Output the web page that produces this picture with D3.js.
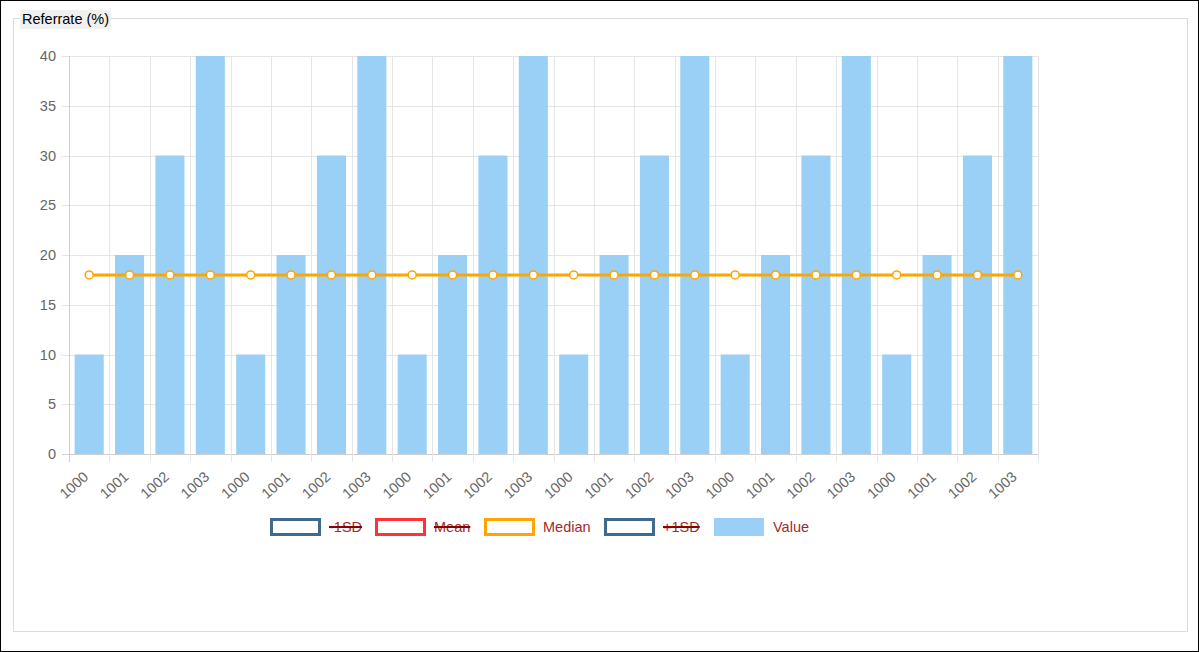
<!DOCTYPE html>
<html><head><meta charset="utf-8">
<script src="https://cdn.jsdelivr.net/npm/d3@7/dist/d3.min.js"></script>
<style>
html,body{margin:0;padding:0;background:#fff;}
body{width:1199px;height:652px;overflow:hidden;font-family:"Liberation Sans",Arial,sans-serif;}
</style></head>
<body>
<svg id="chart" width="1199" height="652"></svg>
<script>
const categories = ["1000","1001","1002","1003","1000","1001","1002","1003","1000","1001","1002","1003","1000","1001","1002","1003","1000","1001","1002","1003","1000","1001","1002","1003"];
const values = [10,20,30,40,10,20,30,40,10,20,30,40,10,20,30,40,10,20,30,40,10,20,30,40];
const median = [18,18,18,18,18,18,18,18,18,18,18,18,18,18,18,18,18,18,18,18,18,18,18,18];
const yTicks = [0,5,10,15,20,25,30,35,40];
const legendItems = [
  {label:"-1SD", type:"line", color:"#3e6a8e", hidden:true},
  {label:"Mean", type:"line", color:"#ff3333", hidden:true},
  {label:"Median", type:"line", color:"#ffa500", hidden:false},
  {label:"+1SD", type:"line", color:"#3e6a8e", hidden:true},
  {label:"Value", type:"bar", color:"#9ad0f5", hidden:false}
];
const titleText = "Referrate (%)";

const svg = d3.select("#chart");
svg.append("rect").attr("x",0.5).attr("y",0.5).attr("width",1198).attr("height",651)
  .attr("fill","none").attr("stroke","#000").attr("stroke-width",1);
svg.append("rect").attr("x",13.5).attr("y",18.5).attr("width",1174).attr("height",613)
  .attr("fill","none").attr("stroke","#dcdcdc").attr("stroke-width",1);
const tg = svg.append("g");
tg.append("rect").attr("x",20).attr("y",10).attr("width",91).attr("height",19).attr("fill","#f0f0f0");
tg.append("text").attr("x",22).attr("y",24).attr("font-size",14.5).attr("fill","#000").text(titleText);

const pLeft=69, pRight=1038, pTop=56, pBottom=454;
const x = d3.scaleBand().domain(d3.range(categories.length)).range([pLeft,pRight]).paddingInner(0).paddingOuter(0);
const y = d3.scaleLinear().domain([0,40]).range([pBottom,pTop]);

const g = svg.append("g");
g.selectAll(".hg").data(yTicks).enter().append("line")
  .attr("x1",pLeft-7).attr("x2",pRight).attr("y1",d=>Math.round(y(d))+0.5).attr("y2",d=>Math.round(y(d))+0.5)
  .attr("stroke",d=>d===0?"#cfcfcf":"#e5e5e5").attr("stroke-width",1);
const vlines = d3.range(categories.length+1).map(i=> i<categories.length ? x(i) : pRight);
g.selectAll(".vg").data(vlines).enter().append("line")
  .attr("x1",d=>Math.round(d)+0.5).attr("x2",d=>Math.round(d)+0.5).attr("y1",pTop).attr("y2",pBottom+8)
  .attr("stroke",(d,i)=>i===0?"#cfcfcf":"#e5e5e5").attr("stroke-width",1);

const bw = x.bandwidth()*0.72;
g.selectAll(".bar").data(values).enter().append("rect")
  .attr("x",(d,i)=>x(i)+x.bandwidth()/2-bw/2).attr("width",bw)
  .attr("y",d=>y(d)).attr("height",d=>pBottom-y(d)).attr("fill","#9ad0f5");

g.selectAll(".yl").data(yTicks).enter().append("text")
  .attr("x",56).attr("y",d=>y(d)+5).attr("text-anchor","end").attr("font-size",14.5).attr("fill","#666")
  .text(d=>d);

g.selectAll(".xl").data(categories).enter().append("text")
  .attr("transform",(d,i)=>`translate(${x(i)+x.bandwidth()/2},${478}) rotate(-42)`)
  .attr("text-anchor","end").attr("font-size",14.5).attr("fill","#666").text(d=>d);

const line = d3.line().x((d,i)=>x(i)+x.bandwidth()/2).y(d=>y(d));
g.append("path").datum(median).attr("d",line).attr("fill","none").attr("stroke","#ffa500").attr("stroke-width",3);
g.selectAll(".pt").data(median).enter().append("circle")
  .attr("cx",(d,i)=>x(i)+x.bandwidth()/2).attr("cy",d=>y(d)).attr("r",4)
  .attr("fill","#fff").attr("stroke","#ffa500").attr("stroke-width",1.5);

const lx = [270,375,484,604,714];
const lg = svg.append("g");
legendItems.forEach((it,i)=>{
  const gx = lx[i];
  if(it.type==="line"){
    lg.append("rect").attr("x",gx+1.5).attr("y",519.5).attr("width",48).attr("height",15)
      .attr("fill","#fff").attr("stroke",it.color).attr("stroke-width",3);
  } else {
    lg.append("rect").attr("x",gx).attr("y",518).attr("width",50).attr("height",18).attr("fill",it.color);
  }
  const t = lg.append("text").attr("x",gx+59).attr("y",532).attr("font-size",14.5).attr("fill","#a52a2a").text(it.label);
  if(it.hidden){
    const w = t.node().getComputedTextLength();
    lg.append("line").attr("x1",gx+59).attr("x2",gx+59+w).attr("y1",527).attr("y2",527)
      .attr("stroke","#8b0000").attr("stroke-width",2);
  }
});
</script>
</body></html>
